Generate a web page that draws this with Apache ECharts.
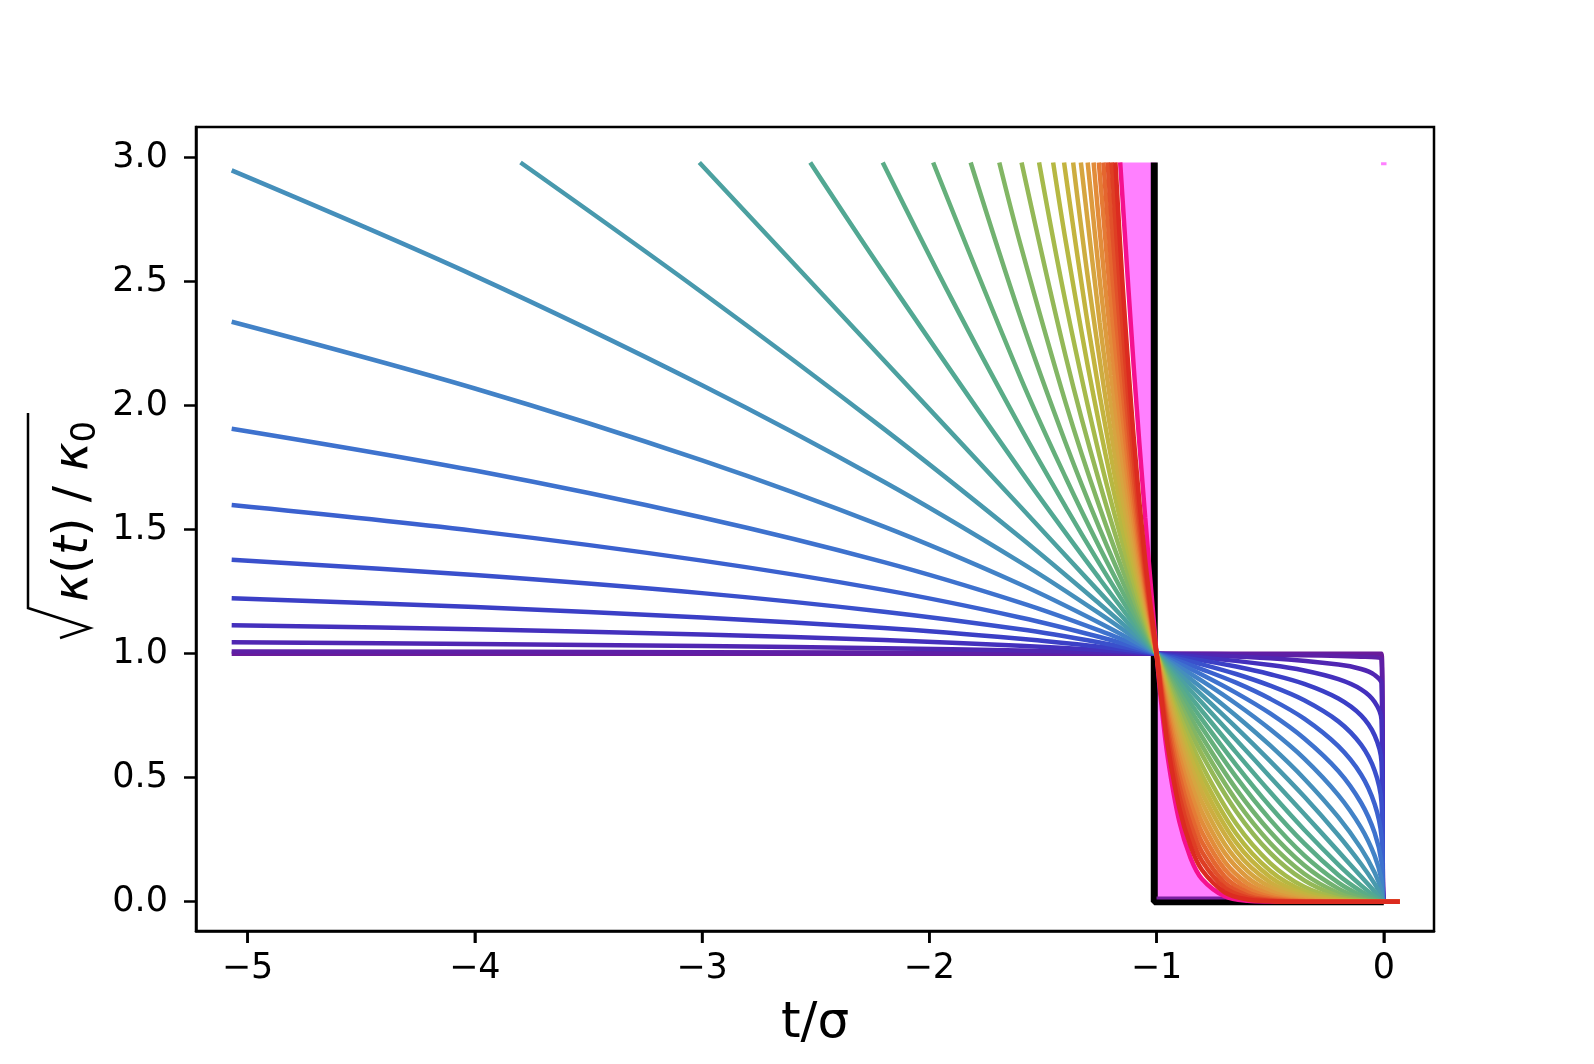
<!DOCTYPE html>
<html>
<head>
<meta charset="utf-8">
<title>sqrt kappa(t) / kappa0</title>
<script src="https://cdn.jsdelivr.net/npm/echarts@6/dist/echarts.min.js"></script>
<style>
  html, body { margin: 0; padding: 0; background: #fff; }
  #main { width: 1594px; height: 1064px; }
</style>
</head>
<body>
<div id="main"></div>
<script>
// tick values
const xTicks = [-5, -4, -3, -2, -1, 0];
const yTicks = [0, 0.5, 1, 1.5, 2, 2.5, 3];

// one curve per parameter step, [t/σ, value]
const k00 = [[-5.07,1],[-1,1],[-0.01,1],[0,0],[0.07,0]];
const k01 = [[-5.07,1.009],[-3,1.006],[-1.6,1.003],[-1,1],[-0.5,0.996],[-0.1,0.988],[-0.01,0.975],[0,0],[0.07,0]];
const k02 = [[-5.07,1.046],[-4,1.039],[-3,1.031],[-2.2,1.022],[-1.6,1.013],[-1.25,1.006],[-1,1],[-0.8,0.994],[-0.5,0.981],[-0.2,0.956],[-0.1,0.938],[-0.04,0.914],[-0.01,0.88],[0,0],[0.07,0]];
const k03 = [[-5.07,1.115],[-4,1.098],[-3,1.077],[-2.2,1.055],[-1.6,1.032],[-1.25,1.015],[-1,1],[-0.8,0.985],[-0.5,0.954],[-0.35,0.932],[-0.2,0.897],[-0.1,0.856],[-0.04,0.805],[-0.01,0.733],[0,0],[0.07,0]];
const k04 = [[-5.07,1.223],[-4,1.188],[-3,1.146],[-2.2,1.103],[-1.6,1.06],[-1.25,1.028],[-1,1],[-0.8,0.973],[-0.65,0.948],[-0.5,0.917],[-0.35,0.878],[-0.2,0.819],[-0.1,0.751],[-0.04,0.67],[-0.01,0.564],[0,0],[0.07,0]];
const k05 = [[-5.07,1.379],[-4,1.317],[-3,1.244],[-2.2,1.169],[-1.6,1.098],[-1.25,1.045],[-1,1],[-0.9,0.979],[-0.8,0.957],[-0.65,0.918],[-0.5,0.871],[-0.35,0.812],[-0.2,0.727],[-0.1,0.633],[-0.04,0.528],[-0.01,0.401],[0,0],[0.07,0]];
const k06 = [[-5.07,1.599],[-4,1.495],[-3,1.375],[-2.2,1.257],[-1.6,1.146],[-1.25,1.067],[-1,1],[-0.9,0.97],[-0.8,0.937],[-0.65,0.883],[-0.5,0.818],[-0.35,0.738],[-0.2,0.627],[-0.1,0.513],[-0.04,0.393],[-0.01,0.263],[0,0],[0.07,0]];
const k07 = [[-5.07,1.907],[-4,1.738],[-3,1.549],[-2.2,1.369],[-1.6,1.206],[-1.25,1.093],[-1,1],[-0.9,0.959],[-0.8,0.915],[-0.65,0.842],[-0.5,0.759],[-0.35,0.658],[-0.2,0.527],[-0.1,0.399],[-0.04,0.277],[-0.01,0.16],[0,0],[0.07,0]];
const k08 = [[-5.07,2.338],[-4,2.069],[-3,1.779],[-2.2,1.512],[-1.6,1.28],[-1.25,1.124],[-1,1],[-0.9,0.946],[-0.8,0.89],[-0.65,0.798],[-0.5,0.695],[-0.35,0.577],[-0.2,0.43],[-0.1,0.299],[-0.04,0.185],[-0.01,0.089],[0,0],[0.07,0]];
const k09 = [[-5.07,2.948],[-4,2.523],[-3,2.082],[-2.2,1.693],[-1.6,1.369],[-1.25,1.161],[-1,1],[-0.9,0.932],[-0.8,0.862],[-0.65,0.75],[-0.5,0.63],[-0.35,0.496],[-0.2,0.341],[-0.1,0.215],[-0.04,0.117],[-0.01,0.046],[0,0],[0.07,0]];
const k10 = [[-3.799,2.98],[-3,2.456],[-2.2,1.906],[-1.6,1.469],[-1.25,1.2],[-1,1],[-0.9,0.917],[-0.8,0.833],[-0.65,0.703],[-0.5,0.567],[-0.35,0.424],[-0.2,0.268],[-0.1,0.152],[-0.04,0.072],[-0.01,0.023],[0,0],[0.07,0]];
const k11 = [[-3.012,2.98],[-2.2,2.183],[-1.6,1.593],[-1.25,1.247],[-1,1],[-0.9,0.901],[-0.8,0.802],[-0.65,0.653],[-0.5,0.503],[-0.35,0.354],[-0.2,0.203],[-0.1,0.102],[-0.04,0.041],[-0.01,0.01],[0,0],[0.07,0]];
const k12 = [[-2.524,2.98],[-2.2,2.534],[-1.6,1.74],[-1.25,1.301],[-1,1],[-0.9,0.883],[-0.8,0.769],[-0.65,0.602],[-0.5,0.442],[-0.35,0.29],[-0.2,0.15],[-0.1,0.066],[-0.04,0.022],[-0.01,0.004],[0,0],[0.07,0]];
const k13 = [[-2.205,2.98],[-1.9,2.427],[-1.6,1.914],[-1.4,1.592],[-1.25,1.361],[-1.1,1.141],[-1,1],[-0.9,0.865],[-0.8,0.735],[-0.65,0.552],[-0.5,0.384],[-0.35,0.235],[-0.2,0.108],[-0.1,0.042],[-0.04,0.012],[-0.01,0.002],[0,0],[0.07,0]];
const k14 = [[-1.983,2.98],[-1.6,2.116],[-1.4,1.71],[-1.25,1.427],[-1.1,1.164],[-1,1],[-0.9,0.845],[-0.8,0.701],[-0.65,0.503],[-0.5,0.331],[-0.35,0.187],[-0.2,0.077],[-0.1,0.025],[-0.04,0.006],[0,0],[0.07,0]];
const k15 = [[-1.818,2.98],[-1.6,2.36],[-1.4,1.849],[-1.25,1.503],[-1.1,1.19],[-1,1],[-0.9,0.825],[-0.8,0.665],[-0.65,0.455],[-0.5,0.282],[-0.35,0.147],[-0.2,0.053],[-0.1,0.015],[-0.04,0.003],[0,0],[0.07,0]];
const k16 = [[-1.692,2.98],[-1.6,2.653],[-1.4,2.011],[-1.25,1.589],[-1.1,1.219],[-1,1],[-0.9,0.803],[-0.8,0.629],[-0.65,0.409],[-0.5,0.237],[-0.35,0.113],[-0.2,0.035],[-0.1,0.008],[-0.04,0.001],[0,0],[0.07,0]];
const k17 = [[-1.594,2.98],[-1.4,2.199],[-1.25,1.686],[-1.1,1.25],[-1,1],[-0.9,0.781],[-0.8,0.593],[-0.65,0.365],[-0.5,0.197],[-0.35,0.086],[-0.2,0.023],[-0.1,0.005],[0,0],[0.07,0]];
const k18 = [[-1.517,2.98],[-1.4,2.415],[-1.25,1.794],[-1.1,1.284],[-1,1],[-0.9,0.754],[-0.8,0.55],[-0.65,0.315],[-0.5,0.156],[-0.35,0.06],[-0.2,0.013],[-0.1,0.002],[0,0],[0.07,0]];
const k19 = [[-1.455,2.98],[-1.4,2.664],[-1.3,2.147],[-1.2,1.7],[-1.1,1.32],[-1,1],[-0.9,0.729],[-0.8,0.512],[-0.65,0.275],[-0.5,0.125],[-0.35,0.043],[-0.2,0.008],[-0.1,0.001],[0,0],[0.07,0]];
const k20 = [[-1.407,2.98],[-1.3,2.314],[-1.2,1.791],[-1.1,1.356],[-1,1],[-0.9,0.705],[-0.8,0.477],[-0.65,0.239],[-0.5,0.1],[-0.35,0.031],[-0.2,0.005],[0,0],[0.07,0]];
const k21 = [[-1.367,2.98],[-1.3,2.501],[-1.2,1.89],[-1.1,1.395],[-1,1],[-0.9,0.678],[-0.8,0.44],[-0.65,0.205],[-0.5,0.078],[-0.35,0.021],[-0.2,0.003],[0,0],[0.07,0]];
const k22 = [[-1.333,2.98],[-1.25,2.334],[-1.2,1.999],[-1.15,1.701],[-1.1,1.436],[-1.05,1.204],[-1,1],[-0.95,0.811],[-0.9,0.651],[-0.85,0.515],[-0.8,0.402],[-0.7,0.233],[-0.6,0.124],[-0.5,0.059],[-0.4,0.024],[-0.3,0.007],[-0.2,0.001],[0,0],[0.07,0]];
const k23 = [[-1.303,2.98],[-1.25,2.507],[-1.2,2.119],[-1.15,1.779],[-1.1,1.481],[-1.05,1.223],[-1,1],[-0.95,0.792],[-0.9,0.619],[-0.85,0.477],[-0.8,0.362],[-0.7,0.197],[-0.6,0.098],[-0.5,0.043],[-0.4,0.015],[-0.3,0.004],[-0.2,0],[0,0],[0.07,0]];
const k24 = [[-1.277,2.98],[-1.25,2.705],[-1.2,2.255],[-1.15,1.865],[-1.1,1.53],[-1.05,1.243],[-1,1],[-0.95,0.77],[-0.9,0.584],[-0.85,0.437],[-0.8,0.321],[-0.7,0.162],[-0.6,0.074],[-0.5,0.029],[-0.4,0.009],[-0.3,0.002],[-0.2,0],[0,0],[0.07,0]];
const k25 = [[-1.254,2.98],[-1.2,2.408],[-1.15,1.962],[-1.1,1.583],[-1.05,1.265],[-1,1],[-0.95,0.746],[-0.9,0.548],[-0.85,0.396],[-0.8,0.28],[-0.7,0.131],[-0.6,0.054],[-0.5,0.019],[-0.4,0.005],[-0.3,0.001],[-0.2,0],[0,0],[0.07,0]];
const k26 = [[-1.234,2.98],[-1.2,2.581],[-1.15,2.069],[-1.1,1.641],[-1.05,1.289],[-1,1],[-0.98,0.879],[-0.95,0.72],[-0.9,0.509],[-0.85,0.353],[-0.8,0.24],[-0.7,0.102],[-0.6,0.038],[-0.5,0.012],[-0.4,0.003],[-0.3,0],[0,0],[0.07,0]];
const k27 = [[-1.215,2.98],[-1.2,2.776],[-1.15,2.188],[-1.1,1.705],[-1.05,1.314],[-1,1],[-0.98,0.865],[-0.95,0.691],[-0.9,0.468],[-0.85,0.31],[-0.8,0.201],[-0.7,0.077],[-0.6,0.025],[-0.5,0.007],[-0.4,0.001],[-0.3,0],[0,0],[0.07,0]];
const k28 = [[-1.198,2.98],[-1.15,2.33],[-1.1,1.78],[-1.05,1.343],[-1,1],[-0.98,0.849],[-0.95,0.66],[-0.9,0.426],[-0.85,0.268],[-0.8,0.164],[-0.7,0.056],[-0.6,0.016],[-0.5,0.004],[-0.4,0.001],[-0.3,0],[0,0],[0.07,0]];
const k29 = [[-1.181,2.98],[-1.15,2.498],[-1.1,1.867],[-1.05,1.377],[-1,1],[-0.98,0.83],[-0.95,0.624],[-0.9,0.379],[-0.85,0.224],[-0.8,0.128],[-0.7,0.038],[-0.6,0.009],[-0.5,0.002],[-0.4,0],[0,0],[0.07,0]];

const curves = [k00, k01, k02, k03, k04, k05, k06, k07, k08, k09,
                k10, k11, k12, k13, k14, k15, k16, k17, k18, k19,
                k20, k21, k22, k23, k24, k25, k26, k27, k28, k29];

const curveColors = [
  '#6a1b9a', '#5e1fa6', '#5026b2', '#4430bd', '#3b3fc6', '#3a50cc', '#3b61cf', '#3e72ce', '#4282c7', '#458fbb',
  '#4899ad', '#4ca1a0', '#52a893', '#5aac87', '#65b07b', '#72b270', '#82b664', '#94b857', '#a6ba4b', '#b6b842',
  '#c3b43f', '#cdad40', '#d6a540', '#dd9a3e', '#e28c3a', '#e57a35', '#e4662f', '#e1512a', '#de3e24', '#dc2b20'
];

// magenta reference curve, split at t = -σ
const magentaLeft = [[-1.16,2.98],[-1.1,2.15],[-1.05,1.55],[-1,1]];
const magentaRight = [[-1,1],[-0.98,0.806],[-0.95,0.578],[-0.9,0.324],[-0.85,0.176],[-0.8,0.092],[-0.7,0.022],[-0.6,0.004],[-0.5,0.001],[-0.4,0]];
const pinkLeft = [[-1.16,2.98],[-1.1,2.15],[-1.05,1.55],[-1,1],[-1,2.98]];

// step limit and small extras
const limitLine = [[-1.01,2.98],[-1.01,0],[0,0]];
const baseStrip = [[-1,0.015],[0,0.015]];
const pinkMark = [[-0.012,2.975],[0.012,2.975]];

const X_MIN = -5.227, X_MAX = 0.221, Y_MIN = -0.118, Y_MAX = 3.123;
// outward tick length in y units (about 12 px)
const TICK_LEN = 0.048;

const chart = echarts.init(document.getElementById('main'));

const lineSeries = (data, color, width, z) => ({
  type: 'line',
  data: data,
  showSymbol: false,
  smooth: 0.35,
  lineStyle: {color: color, width: width, cap: 'butt'},
  z: z,
  silent: true
});

const series = [];

// pink band
series.push({
  type: 'custom',
  data: pinkLeft,
  z: 1,
  renderItem: (params, api) => {
    if (params.dataIndex !== 0) return null;
    return {
      type: 'polygon',
      shape: {points: pinkLeft.map(p => api.coord(p))},
      style: {fill: '#ff80ff'}
    };
  }
});
series.push(Object.assign(lineSeries(magentaRight, '#ff80ff', 0, 1), {
  areaStyle: {color: '#ff80ff', opacity: 1, origin: 'auto'}
}));

series.push(Object.assign(lineSeries(limitLine, '#000', 7, 2), {smooth: false}));
series.push(Object.assign(lineSeries(baseStrip, '#7a1fa0', 3, 2), {smooth: false}));
series.push(lineSeries(magentaLeft, '#f5108f', 4.5, 3));
series.push(lineSeries(magentaRight, '#f5108f', 4.5, 3));

curves.forEach((c, i) => {
  series.push(lineSeries(c, curveColors[i], 4.5, 4));
});

series.push(Object.assign(lineSeries(pinkMark, '#ff80ff', 3, 4), {smooth: false}));

// bottom tick marks as unclipped short lines under the frame
xTicks.forEach(v => {
  series.push(Object.assign(lineSeries([[v, Y_MIN], [v, Y_MIN - TICK_LEN]], '#000', 2.5, 10), {
    smooth: false,
    clip: false
  }));
});

const tickStyle = {show: true, inside: false, length: 12, lineStyle: {color: '#000', width: 2.5}};

const yLabel = {
  type: 'group',
  x: 0, y: 640,
  rotation: Math.PI / 2,
  children: [
    {
      type: 'polyline',
      shape: {points: [[2, 60], [12, 90], [32, 28], [227, 28]]},
      style: {stroke: '#000', lineWidth: 2.5, fill: null}
    },
    {
      type: 'text',
      x: 38, y: 75,
      style: {
        text: '{i|κ}{r|(}{i|t}{r|) / }{i|κ}{s|0}',
        fill: '#000',
        verticalAlign: 'middle',
        align: 'left',
        rich: {
          i: {fontFamily: 'DejaVu Sans', fontStyle: 'italic', fontSize: 48, lineHeight: 56, fill: '#000'},
          r: {fontFamily: 'DejaVu Sans', fontSize: 48, lineHeight: 56, fill: '#000'},
          s: {fontFamily: 'DejaVu Sans', fontSize: 34, lineHeight: 56, verticalAlign: 'bottom', fill: '#000'}
        }
      }
    }
  ]
};

const option = {
  animation: false,
  backgroundColor: '#fff',
  textStyle: {fontFamily: 'DejaVu Sans'},
  grid: {
    left: 196, right: 160, top: 127, bottom: 133,
    show: true, borderColor: '#000', borderWidth: 2.5, backgroundColor: 'transparent'
  },
  xAxis: {
    type: 'value',
    position: 'bottom',
    min: X_MIN, max: X_MAX,
    name: 't/σ',
    nameLocation: 'middle',
    nameGap: 68,
    nameTextStyle: {fontSize: 50, color: '#000', fontFamily: 'DejaVu Sans'},
    axisLine: {show: true, onZero: false, lineStyle: {color: '#000', width: 2.5}},
    splitLine: {show: false},
    axisTick: Object.assign({customValues: xTicks}, tickStyle),
    axisLabel: {
      customValues: xTicks,
      fontSize: 35, color: '#000', margin: 20,
      formatter: v => v < 0 ? '\u2212' + Math.abs(v) : String(v)
    }
  },
  yAxis: {
    type: 'value',
    position: 'left',
    min: Y_MIN, max: Y_MAX,
    axisLine: {show: true, onZero: false, lineStyle: {color: '#000', width: 2.5}},
    splitLine: {show: false},
    axisTick: Object.assign({customValues: yTicks}, tickStyle),
    axisLabel: {
      customValues: yTicks,
      fontSize: 35, color: '#000', margin: 28,
      formatter: v => v.toFixed(1)
    }
  },
  graphic: [yLabel],
  series: series
};

chart.setOption(option);
</script>
</body>
</html>
